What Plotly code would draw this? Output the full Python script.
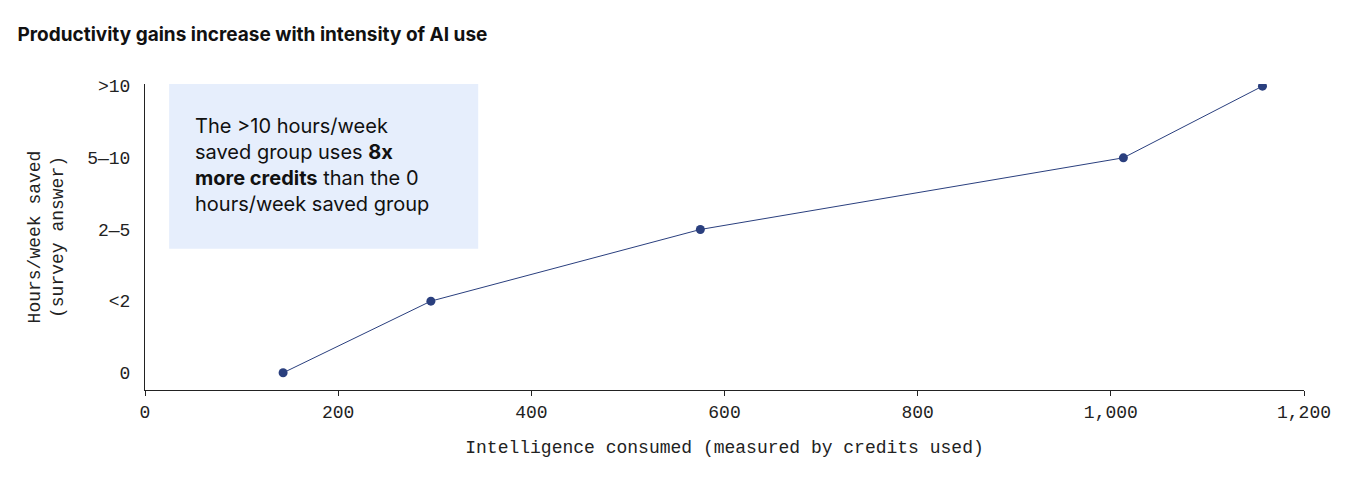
import plotly.graph_objects as go

credits = [143, 296, 575, 1013, 1157]
levels = [0, 1, 2, 3, 4]
level_labels = ["0", "<2", "2\u20145", "5\u201410", ">10"]
x_ticks = [0, 200, 400, 600, 800, 1000, 1200]

mono = "Liberation Mono, DejaVu Sans Mono, monospace"
navy = "#2a3f7e"

fig = go.Figure(go.Scatter(
    x=credits, y=levels, mode="lines+markers",
    line=dict(color=navy, width=1),
    marker=dict(color=navy, size=9),
    showlegend=False,
))

# callout box
fig.add_shape(type="rect", xref="x", yref="y", x0=25, x1=345, y0=1.73, y1=4.06,
              fillcolor="#e6eefc", line=dict(width=0), layer="below")
fig.add_annotation(
    xref="x", yref="y", x=50, y=2.9, xanchor="left", yanchor="middle", showarrow=False,
    align="left",
    text="The >10 hours/week<br>saved group uses <b>8x</b><br><b>more credits</b> than the 0"
         "<br>hours/week saved group",
    font=dict(family="Inter, Noto Sans, sans-serif", size=20, color="#111"),
)

fig.update_layout(
    width=1356, height=477,
    margin=dict(l=137, r=60, t=76, b=95),
    paper_bgcolor="white", plot_bgcolor="white",
    title=dict(text="<b>Productivity gains increase with intensity of AI use</b>",
               x=0.007, xanchor="left", y=0.945, yanchor="middle",
               font=dict(family="Inter, Noto Sans, sans-serif", size=19, color="#111")),
    xaxis=dict(range=[0, 1200], tickvals=x_ticks, tickformat=",",
               showgrid=False, zeroline=False, showline=True, linecolor="#222",
               ticks="outside", ticklen=5, tickcolor="#222",
               tickfont=dict(family=mono, size=18, color="#222"),
               title=dict(text="Intelligence consumed (measured by credits used)",
                          font=dict(family=mono, size=18, color="#222"), standoff=18)),
    yaxis=dict(range=[-0.24, 4.03], tickvals=levels, ticktext=level_labels,
               showgrid=False, zeroline=False, showline=True, linecolor="#222",
               ticks="", ticklabelstandoff=10,
               tickfont=dict(family=mono, size=18, color="#222"),
               title=dict(text="Hours/week saved<br>(survey answer)",
                          font=dict(family=mono, size=18, color="#222"), standoff=18)),
)

fig.write_html("out.html")
